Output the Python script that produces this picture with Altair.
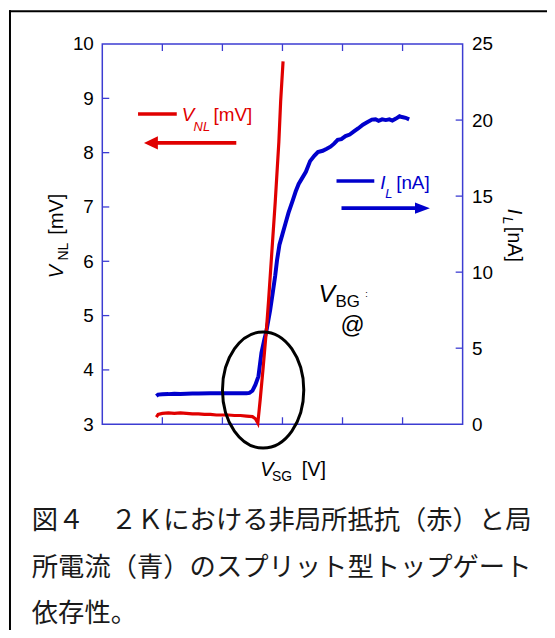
import altair as alt
import pandas as pd

# ---------------- data ----------------
vsg_red = [-21.0, -20.7, -20.0, -19.0, -18.0, -17.0, -16.0, -15.0, -14.0, -13.0,
           -12.0, -11.0, -10.0, -9.0, -8.0, -7.0, -6.0, -5.0, -4.5, -4.1,
           -3.7, -3.2, -2.7, -2.3, -1.75, -1.2, -0.6, -0.3, 0.1]
vnl_mv = [3.13, 3.18, 3.20, 3.21, 3.20, 3.21, 3.20, 3.19, 3.19, 3.18,
          3.18, 3.17, 3.17, 3.17, 3.16, 3.16, 3.15, 3.14, 3.10, 3.02,
          3.46, 4.06, 4.70, 5.30, 6.20, 7.10, 8.20, 8.95, 9.68]

vsg_blue = [-21.0, -20.7, -20.0, -19.0, -18.0, -17.0, -16.0, -15.0, -14.0, -12.0,
            -10.0, -8.0, -6.0, -5.5, -5.0, -4.5, -4.0, -3.5, -3.0, -2.7,
            -2.05, -1.6, -1.2, -0.9, -0.5, 0.0, 0.5, 1.0, 1.7, 2.2,
            2.7, 3.3, 3.9, 4.6, 5.3, 5.9, 6.7, 7.3, 8.0, 8.6,
            9.2, 9.8, 10.5, 11.2, 11.9, 12.6, 13.4, 14.1, 14.9, 15.5,
            16.0, 16.6, 17.2, 17.8, 18.3, 18.9, 19.5, 19.9, 20.5, 21.1]
il_na = [1.85, 1.95, 1.97, 1.98, 2.00, 1.99, 2.01, 2.02, 2.02, 2.03,
         2.03, 2.03, 2.04, 2.06, 2.2, 2.6, 3.15, 4.7, 5.6, 6.07,
         7.5, 8.7, 9.8, 10.8, 11.8, 12.5, 13.2, 13.9, 14.7, 15.3,
         15.8, 16.2, 16.6, 17.3, 17.65, 17.9, 17.98, 18.1, 18.25, 18.45,
         18.7, 18.75, 18.95, 19.05, 19.25, 19.45, 19.7, 19.85, 20.03, 20.05,
         19.95, 20.05, 20.0, 20.05, 19.97, 20.1, 20.25, 20.2, 20.15, 20.05]

x_ticks = [-30, -20, -10, 0, 10, 20, 30]
left_ticks = [3, 4, 5, 6, 7, 8, 9, 10]
right_ticks = [0, 5, 10, 15, 20, 25]

caption_lines = ["図４　２Ｋにおける非局所抵抗（赤）と局",
                 "所電流（青）のスプリット型トップゲート",
                 "依存性。"]

# ---------------- styling ----------------
RED = "#E00000"
BLUE = "#0000CC"
FRAME = "#3C3CD2"
LAT = "Liberation Sans"
CJK = "Noto Sans CJK JP"
W, H = 363, 383

xs = alt.Scale(domain=[-30, 30], nice=False, zero=False)
ls = alt.Scale(domain=[3, 10], nice=False, zero=False)
rs = alt.Scale(domain=[0, 25], nice=False, zero=False)

red_df = pd.DataFrame({"vsg": vsg_red, "vnl": vnl_mv})
blue_df = pd.DataFrame({"vsg": vsg_blue, "il": il_na})
one = pd.DataFrame({"k": [0]})

axis_common = dict(grid=False, domain=False, ticks=False, tickSize=0, title=None,
                   labelFont=LAT, labelFontSize=19, labelColor="black",
                   labelExpr="'' + datum.value")

blue = alt.Chart(blue_df).mark_line(color=BLUE, strokeWidth=4).encode(
    x=alt.X("vsg:Q", scale=xs, axis=None),
    y=alt.Y("il:Q", scale=rs,
            axis=alt.Axis(orient="right", values=right_ticks, labelPadding=9, **axis_common)),
)

red = alt.Chart(red_df).mark_line(color=RED, strokeWidth=3.2).encode(
    x=alt.X("vsg:Q", scale=xs,
            axis=alt.Axis(values=x_ticks, labelPadding=2, labelOverlap=False, **axis_common)),
    y=alt.Y("vnl:Q", scale=ls,
            axis=alt.Axis(orient="left", values=left_ticks, labelPadding=9, **axis_common)),
)

# inward ticks
tick_left = alt.Chart(pd.DataFrame({"v": left_ticks[1:-1]})).mark_rule(color=FRAME, strokeWidth=1.3).encode(
    y=alt.Y("v:Q", scale=ls, axis=None), x=alt.value(0), x2=alt.value(7))
tick_right = alt.Chart(pd.DataFrame({"v": right_ticks[1:-1]})).mark_rule(color=FRAME, strokeWidth=1.3).encode(
    y=alt.Y("v:Q", scale=rs, axis=None), x=alt.value(W), x2=alt.value(W - 7))
tick_bottom = alt.Chart(pd.DataFrame({"v": x_ticks[1:-1]})).mark_rule(color=FRAME, strokeWidth=1.3).encode(
    x=alt.X("v:Q", scale=xs, axis=None), y=alt.value(H), y2=alt.value(H - 7))
tick_top = alt.Chart(pd.DataFrame({"v": x_ticks[1:-1]})).mark_rule(color=FRAME, strokeWidth=1.3).encode(
    x=alt.X("v:Q", scale=xs, axis=None), y=alt.value(0), y2=alt.value(7))


def dtext(s, x, y, yscale, size, color="black", italic=False):
    return alt.Chart(one).mark_text(
        text=s, align="left", baseline="alphabetic", font=LAT, fontSize=size,
        color=color, fontStyle="italic" if italic else "normal"
    ).encode(x=alt.XDatum(x, scale=xs, axis=None), y=alt.YDatum(y, scale=yscale, axis=None))


def ptext(s, x, y, size, angle=0, italic=False, color="black", font=LAT):
    return alt.Chart(one).mark_text(
        text=s, align="left", baseline="alphabetic", font=font, fontSize=size,
        angle=angle, color=color, fontStyle="italic" if italic else "normal"
    ).encode(x=alt.value(x), y=alt.value(y))


def dseg(x1, x2, y, yscale, color, width):
    return alt.Chart(one).mark_rule(color=color, strokeWidth=width).encode(
        x=alt.XDatum(x1, scale=xs, axis=None), x2=alt.X2Datum(x2),
        y=alt.YDatum(y, scale=yscale, axis=None))


def dshape(path, x, y, yscale, size, color, filled=True, width=1):
    mk = alt.Chart(one).mark_point(shape=path, size=size, filled=filled, opacity=1,
                                   color=color, strokeWidth=width)
    return mk.encode(x=alt.XDatum(x, scale=xs, axis=None), y=alt.YDatum(y, scale=yscale, axis=None))


HEAD_LEFT = "M 0 0 L 2 -0.95 L 2 0.95 Z"
HEAD_RIGHT = "M 0 0 L -2 -0.77 L -2 0.77 Z"
ELLIPSE = ("M 0.7 0 C 0.7 0.5523 0.3866 1 0 1 C -0.3866 1 -0.7 0.5523 -0.7 0 "
           "C -0.7 -0.5523 -0.3866 -1 0 -1 C 0.3866 -1 0.7 -0.5523 0.7 0 Z")

annotations = [
    # red legend
    dseg(-24.05, -17.6, 8.71, ls, RED, 3.5),
    dtext("V", -16.78, 8.575, ls, 19, RED, True),
    dtext("NL", -14.8, 8.39, ls, 13, RED, True),
    dtext("[mV]", -11.49, 8.575, ls, 19, RED),
    dseg(-7.69, -21.5, 8.18, ls, RED, 4),
    dshape(HEAD_LEFT, -23.06, 8.18, ls, 196, RED),
    # blue legend
    dseg(9.0, 15.29, 15.99, rs, BLUE, 3.5),
    dtext("I", 16.28, 15.47, rs, 19, BLUE, True),
    dtext("L", 17.1, 14.88, rs, 13, BLUE, True),
    dtext("[nA]", 18.93, 15.47, rs, 19, BLUE),
    dseg(9.83, 23.0, 14.21, rs, BLUE, 4),
    dshape(HEAD_RIGHT, 24.55, 14.21, rs, 225, BLUE),
    # V_BG @
    dtext("V", 6.0, 5.25, ls, 25, italic=True),
    dtext("BG", 8.84, 5.157, ls, 17),
    dtext(":", 13.8, 5.34, ls, 9),
    dtext("@", 9.67, 4.68, ls, 24),
    # ellipse
    dshape(ELLIPSE, -3.22, 3.63, ls, 13689, "black", filled=False, width=3),
]

titles = [
    # left axis title (rotated)
    ptext("V", -40, 236, 20, angle=270, italic=True),
    ptext("NL", -35, 218, 14, angle=270),
    ptext("[mV]", -40, 192, 20, angle=270),
    # right axis title (rotated)
    ptext("I", 409, 166, 20, angle=90, italic=True),
    ptext("L", 404, 174, 14, angle=90, italic=True),
    ptext("[nA]", 409, 184, 20, angle=90),
    # x axis title
    ptext("V", 159, 435, 20, italic=True),
    ptext("SG", 171, 440, 14),
    ptext("[V]", 201, 435, 20),
]

caption = alt.Chart(one).mark_text(
    text="\n".join(caption_lines), lineBreak="\n", lineHeight=46.5,
    align="left", baseline="alphabetic", font=CJK, fontSize=26.5, color="#1a1a1a"
).encode(x=alt.value(-71), y=alt.value(489))

frame_top = alt.Chart(one).mark_rule(color="black", strokeWidth=2).encode(
    x=alt.value(-94), x2=alt.value(460), y=alt.value(-33))
frame_left = alt.Chart(one).mark_rule(color="black", strokeWidth=2).encode(
    x=alt.value(-93), y=alt.value(-34), y2=alt.value(600))

chart = alt.layer(
    blue, red, tick_left, tick_right, tick_bottom, tick_top,
    *annotations, *titles, caption, frame_top, frame_left
).resolve_scale(y="independent").properties(
    width=W, height=H,
    padding={"left": 95, "top": 34, "right": 85, "bottom": 205},
    autosize=alt.AutoSizeParams(type="none"),
    background="white",
).configure_view(stroke=FRAME, strokeWidth=1.5)

chart.save("out.html", embed_options={"renderer": "svg", "actions": False})
